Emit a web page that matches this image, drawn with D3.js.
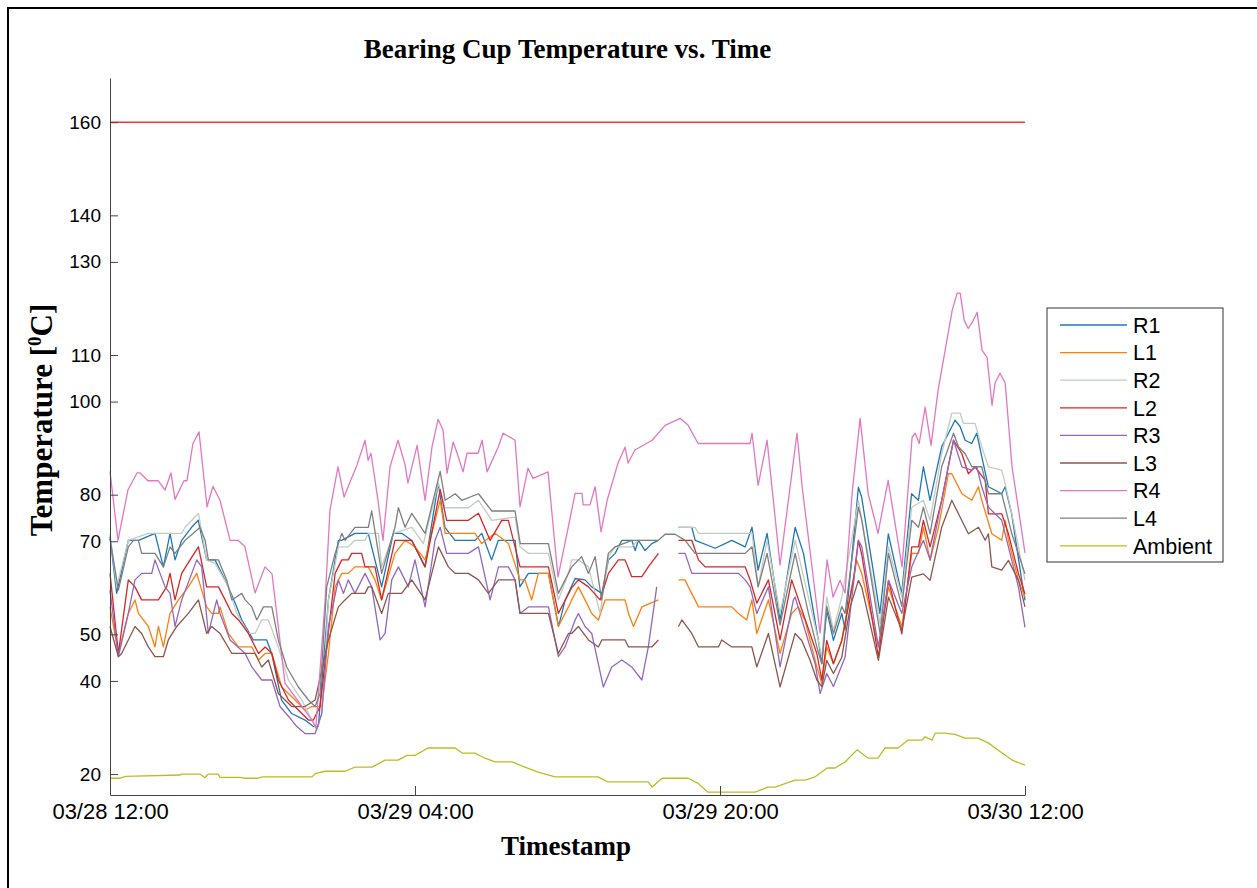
<!DOCTYPE html>
<html>
<head>
<meta charset="utf-8">
<script src="https://cdn.jsdelivr.net/npm/d3@7"></script>
<style>
  body { margin: 0; background: #fff; }
</style>
</head>
<body>
<div id="chart"></div>
<script>
// hours after 03/28 12:00, temperature in °C (null = logger gap)
const r1 = [[0,71],[0.35,58.8],[0.96,70.2],[1.5,70.2],[2.36,71.7],[2.8,64.5],[3.15,71.7],[3.41,66],[3.76,70.2],[4.28,73],[4.63,74.5],[5.07,66],[5.51,66],[6.21,60.2],[6.65,55.9],[6.91,53.1],[7.52,48.8],[8.22,48.8],[8.48,45.9],[9.0,35.9],[9.53,33],[10.23,31.6],[10.67,30.2],[10.93,30.2],[11.46,57.4],[11.98,70.2],[12.15,70.2],[12.85,71.7],[13.55,71.7],[14.25,60.2],[14.86,71.7],[15.3,71.7],[15.82,70.2],[16.52,64.5],[17.22,82.5],[17.57,73],[18.1,70.2],[19.15,70.2],[19.5,71.7],[20.02,66],[20.37,70.2],[21.25,70.2],[21.5,60.2],[21.95,63.1],[23,63.1],[23.53,51.7],[23.88,57.4],[24.4,62],[24.92,61.7],[25.27,60.2],[25.8,58.8],[26.15,66],[26.5,67.4],[26.85,70.2],[27.37,70.2],[27.55,68],[27.72,70.2],[28.07,68],[28.42,69.5],[28.77,70.2],[29.3,null],[29.82,73],[30.52,73],[30.7,70.2],[31.75,68.5],[32.62,70.2],[33.32,68.8],[33.68,73],[34,63.8],[34.47,71.7],[35.15,53],[35.94,73],[36.38,67.4],[37.16,48.7],[37.34,43.7],[37.6,55.2],[37.95,48.7],[38.39,54.5],[38.56,51],[39.26,81.6],[39.43,79.5],[40.39,54.5],[40.83,71.6],[41.53,58.7],[42.05,80.2],[42.41,78.8],[42.67,86],[43.02,78.8],[43.63,90.3],[44.33,96],[44.6,94.6],[44.86,91.7],[45.2,91],[45.47,93.2],[45.73,88.2],[46.08,81.7],[46.78,80.2],[46.96,81.7],[47.3,75.9],[47.83,61.6],[48,57.3]];

const l1 = [[0,55.9],[0.44,45.9],[0.96,54.5],[1.31,57.4],[1.49,54.5],[2.01,51.7],[2.36,47.3],[2.54,51.7],[2.8,47.3],[3.15,54.5],[3.59,57.4],[4.11,60.2],[4.55,63.1],[5.07,55.9],[5.34,54.5],[5.69,54.5],[5.77,55.9],[6.21,50.2],[6.74,47.3],[7.44,47.3],[7.79,44.5],[8.14,45.9],[8.49,45.9],[9.01,38.7],[9.71,35.9],[10.23,33.7],[10.58,34.5],[11.11,34.5],[11.46,45.9],[11.81,60.2],[12.16,63.1],[12.5,63.1],[12.85,64.5],[13.55,64.5],[13.9,61.7],[14.25,57.4],[14.95,67.4],[15.48,70.2],[16,68.8],[16.53,66],[17.32,78.8],[17.58,71.7],[19.15,71.7],[19.5,69.5],[20.2,71.7],[20.9,69.5],[21.51,61.7],[21.77,61.7],[22.12,57.4],[22.47,63.1],[23,63.1],[23.52,51.7],[24.05,55.9],[24.22,57.4],[24.57,60.2],[24.92,57.4],[25.27,54.5],[25.62,53.1],[25.97,57.4],[27.02,57.4],[27.2,54.5],[27.46,51.7],[27.9,55.9],[28.77,57.4],[29.3,null],[29.82,61.7],[30.17,61.7],[30.34,60.2],[30.69,57.4],[30.87,55.9],[32.62,55.9],[32.97,54.5],[33.4,53.1],[33.67,57.4],[33.93,50.2],[34.54,57.4],[35.15,45.9],[35.76,54.5],[36.1,55.9],[36.46,53],[37.08,43],[37.34,39.5],[37.6,47.3],[37.95,43.7],[38.39,48.7],[39.17,65.9],[39.44,63],[40.31,47.3],[40.84,60.1],[41.54,51.6],[42.06,67.4],[42.41,67.4],[42.67,73],[43.02,65.9],[43.46,73],[43.98,84.5],[44.16,84.5],[44.69,80.2],[45.21,78.8],[45.56,81.7],[45.73,78.8],[46.26,71.6],[46.78,70.2],[46.96,74.5],[47.13,70.2],[47.66,61.6],[48,58]];

const r2 = [[0,71.7],[0.35,60.2],[0.96,70.2],[2.01,71.7],[3.76,71.7],[3.94,73],[4.29,74.5],[4.64,76],[5.07,66],[5.51,65.3],[6.21,60.2],[6.65,54.5],[7.26,50.2],[7.61,50.2],[7.96,53.1],[8.31,53.1],[8.83,47.3],[9.36,40.2],[10.06,35.9],[10.58,31.6],[10.85,29.4],[11.11,33],[11.46,57.4],[11.98,68.8],[12.5,68.8],[12.85,70.2],[13.38,70.2],[13.55,71.7],[14.08,71.7],[14.25,64.5],[14.87,71.7],[15.83,73],[16.44,69.5],[17.23,82.5],[17.58,77.2],[18.8,77.2],[19.33,78.8],[20.03,74.5],[21.25,75.2],[21.51,68.8],[21.95,67.4],[23,67.4],[23.52,57.4],[24.05,63.1],[24.22,66],[24.57,66],[25.1,64.5],[25.71,54.5],[26.15,66.7],[26.49,68.8],[27.37,68.8],[27.72,70.2],[28.77,70.2],[29.3,null],[29.82,73],[30.69,73],[30.87,71.7],[33.32,71.7],[33.68,71.7],[34,60.2],[34.47,70.2],[35.15,54.5],[35.94,70.2],[37.16,48.7],[37.34,45.1],[37.6,58],[37.95,50.9],[38.39,58],[39.26,78.8],[40.4,52.3],[40.84,68.8],[41.54,58],[42.06,77.3],[42.67,78.8],[43.02,74.5],[43.63,88.8],[44.16,97.5],[44.6,97.5],[44.77,95.3],[45.38,95.3],[45.73,90.3],[46.08,86],[46.78,85.3],[46.96,82.4],[47.31,75.9],[47.83,65.2],[48,61.6]];

const l2 = [[0,63.1],[0.44,45.9],[0.96,61.7],[1.31,60.2],[1.66,57.4],[2.54,57.4],[2.97,60.2],[3.15,63.1],[3.41,57.4],[3.76,63.1],[4.2,66],[4.64,68.8],[5.07,60.2],[5.69,60.2],[6.04,57.4],[6.39,54.5],[6.74,53.1],[7.26,50.2],[7.79,45.9],[8.14,47.3],[8.49,45.9],[8.83,40.2],[9.36,35.9],[10.06,33],[10.41,31.6],[10.67,31.6],[11.02,34.5],[11.37,47.3],[11.81,63.1],[12.16,66],[12.5,66],[12.68,67.4],[13.2,67.4],[13.38,64.5],[13.9,64.5],[14.25,57.4],[14.95,70.2],[15.83,70.2],[16.53,64.5],[17.32,81.1],[17.66,74.5],[18.8,74.5],[19.33,76],[19.94,70.2],[20.55,74.5],[20.9,74.5],[21.51,64.5],[23,64.5],[23.52,54.5],[24.22,60],[24.57,61.7],[25.1,60.2],[25.71,57.4],[26.15,63.1],[26.67,66],[27.02,66],[27.37,62.4],[27.9,62.4],[28.24,64.5],[28.77,67.4],[29.3,null],[29.82,70.2],[30.52,70.2],[30.87,66],[31.22,64.5],[33.32,64.5],[33.58,61.7],[33.93,56.7],[34.54,61.7],[35.15,48.8],[35.76,61.7],[37.08,45.9],[37.34,40.2],[37.6,48.7],[37.95,43.7],[38.39,48.7],[39,61.6],[39.26,70.2],[39.44,67],[40.31,45.1],[40.84,61.6],[41.54,50.1],[42.06,68.8],[42.41,68.8],[42.67,74.5],[43.02,68.8],[43.63,78.8],[44.25,91.7],[44.69,88.8],[45.03,84.5],[45.38,86],[45.91,83.1],[46.08,75.9],[46.78,75.9],[47.13,71.6],[47.66,63],[48,58.7]];

const r3 = [[0,59.5],[0.44,45.2],[0.96,54.5],[1.31,61.7],[1.66,63.1],[2.19,63.1],[2.36,66],[2.89,60.2],[3.15,58.8],[3.41,51.7],[3.76,57.4],[4.29,63.1],[4.55,66],[4.81,64.5],[5.16,50.2],[5.6,57.4],[5.77,54.5],[6.3,48.8],[7.09,45.9],[7.44,43],[7.96,40.2],[8.49,40.2],[8.92,34.5],[9.53,31.6],[9.8,30.2],[10.23,28.7],[10.76,28.7],[11.11,33],[11.46,51.7],[11.98,61.7],[12.25,58.8],[12.5,61.7],[12.85,58.8],[13.38,63.1],[13.73,60.2],[14.17,48.8],[14.43,50.2],[14.78,61.7],[15.13,64.5],[15.65,60.2],[16,66],[16.53,55.9],[17.05,70.2],[17.32,73],[17.66,67.4],[18.8,67.4],[19.33,68.8],[19.94,57.4],[20.38,64.5],[20.9,64.5],[21.25,61.7],[21.51,54.5],[21.95,55.9],[23,55.9],[23.52,45.2],[23.87,47.3],[24.4,53.1],[24.57,54.5],[24.92,51.7],[25.27,50.2],[25.88,38.7],[26.32,43],[26.85,44.5],[27.37,43],[27.9,40.2],[28.24,47.3],[28.68,60.2],[29.3,null],[29.82,67.4],[30.17,67.4],[30.52,63.1],[32.97,63.1],[33.32,61.7],[33.58,60.2],[33.93,54.5],[34.54,60.2],[35.15,43],[35.85,57.4],[35.94,58],[36.99,43.7],[37.25,37.3],[37.6,41.6],[37.95,38.8],[38.56,45.1],[39.26,70.2],[39.44,68.8],[40.31,47.3],[40.84,61.6],[41.54,54.5],[42.06,64.5],[42.67,70.2],[43.02,66],[43.63,78.8],[44.25,91.7],[44.69,86],[45.21,85.3],[45.47,86],[45.73,81.7],[46.08,77.3],[46.78,74.5],[47.13,68.8],[47.66,60.1],[48,51.5]];

const l3 = [[0,51.7],[0.44,45.2],[0.61,45.9],[0.96,48.8],[1.31,51.7],[1.66,50.2],[2.01,47.3],[2.36,45.2],[2.8,45.2],[3.06,48.8],[3.5,51.7],[4.11,54.5],[4.64,57.4],[5.07,50.2],[5.34,51.7],[5.77,50.2],[6.39,45.9],[7.61,45.9],[7.96,43],[8.31,44.5],[8.83,37.3],[9.53,34.5],[10.23,34.5],[10.76,35.9],[11.46,48.8],[11.98,55.9],[12.33,57.4],[12.68,58.8],[13.38,58.8],[13.55,60.2],[13.73,60.2],[14.25,54.5],[14.6,58.8],[15.3,58.8],[15.83,61.7],[16.53,57.4],[17.23,68.8],[17.75,64.5],[18.1,63.1],[18.8,63.1],[19.33,61.7],[19.85,58.8],[20.38,61.7],[21.25,61.7],[21.51,54.5],[23,54.5],[23.52,45.9],[24.05,50.2],[24.22,50.2],[24.57,51.7],[25.1,48.8],[25.62,47.3],[25.8,48.8],[27.02,48.8],[27.2,47.3],[28.42,47.3],[28.77,48.8],[29.3,null],[29.82,51.7],[30,53.1],[30.52,50.2],[30.87,47.3],[31.92,47.3],[32.09,48.8],[32.62,47.3],[33.67,47.3],[33.93,43],[34.54,50.2],[35.15,38.7],[35.94,50.2],[36.29,48.7],[36.73,44.4],[37.08,40.2],[37.34,38.8],[37.6,44.4],[37.95,41.6],[38.39,45.1],[38.83,55.9],[39.26,61.6],[39.44,60.1],[40.31,44.4],[40.84,58],[41.54,50.9],[42.06,62.3],[42.67,63],[43.02,61.6],[43.63,73],[44.16,78.8],[44.51,75.9],[45.03,71.6],[45.56,73],[45.91,70.2],[46.08,71.6],[46.26,64.5],[46.78,63.8],[47.13,65.9],[47.66,61.6],[48,55.9]];

const r4 = [[0,85],[0.42,70.2],[0.94,81],[1.42,84.7],[1.57,84.7],[1.99,83],[2.52,83],[2.89,81],[3.2,84.7],[3.41,79],[3.88,83],[4.04,83],[4.35,91],[4.67,93.5],[5.09,77.4],[5.4,81.8],[5.77,78.8],[6.3,70.2],[6.72,70.2],[7.08,68.8],[7.61,58.9],[8.13,64.5],[8.5,63],[9.18,39.5],[10.6,31.6],[10.8,30],[11.28,57],[11.54,76.7],[11.96,86],[12.28,79.5],[12.49,81.7],[12.96,86.4],[13.38,91.7],[13.54,87.4],[13.69,88.9],[14.06,78.8],[14.32,70.2],[14.69,86],[15.11,91.7],[15.48,86.4],[15.63,82.5],[16.11,90.6],[16.53,78.8],[16.89,90.2],[17.21,96.2],[17.47,93.9],[17.68,84.6],[18,91.3],[18.21,88.9],[18.52,84.9],[18.73,88.9],[19.31,88.9],[19.52,91.7],[19.78,84.9],[20.36,90.2],[20.62,93.2],[21.25,91.7],[21.51,77.4],[21.93,85.7],[22.19,83.5],[22.98,84.9],[23.5,62.3],[23.87,69.6],[24.4,80.3],[24.76,80.3],[24.82,77.8],[25.18,77.8],[25.45,81.7],[25.76,72],[26.08,78.8],[26.65,86.8],[27.02,90.2],[27.18,86.8],[27.54,89.6],[28.44,91.7],[29.12,94.9],[29.91,96.4],[30.33,94.9],[30.85,91],[33.58,91],[33.68,93.2],[34,82],[34.47,91.7],[35.15,64.9],[36.04,93.2],[36.31,81.7],[37.25,50.3],[37.62,66],[37.93,58],[38.3,61.6],[38.56,58.9],[38.93,80.3],[39.35,96.4],[39.77,80.3],[40.29,71.7],[40.82,83.1],[41.55,64.5],[42.08,92.4],[42.24,93.2],[42.45,91],[42.76,98.8],[43.07,90.6],[43.44,102.4],[44.18,119.6],[44.44,123.3],[44.6,123.3],[44.81,117.5],[45.02,115.7],[45.23,117],[45.49,119.2],[45.75,111],[46.01,109.5],[46.27,99.2],[46.43,104],[46.69,106.1],[46.96,104],[47.32,86],[48,67.5]];

const l4 = [[0,70.5],[0.44,59.5],[0.96,68.8],[1.23,70.2],[1.49,70.2],[1.66,67.4],[2.36,67.4],[2.8,64.5],[3.15,68.8],[3.41,67.4],[3.94,70.2],[4.37,71.7],[4.72,73],[4.99,70.2],[5.16,66],[5.69,66],[6.12,61.7],[6.39,57.4],[6.91,58.8],[7.09,57.4],[7.44,55.9],[7.7,53.1],[8.05,55.9],[8.49,55.9],[8.83,48.8],[9.27,43],[9.88,38.7],[10.41,35.9],[10.76,34.5],[11.02,37.3],[11.37,60.2],[11.81,67.4],[12.16,71.7],[12.33,70.2],[12.85,73],[13.55,73],[13.73,76.5],[14.25,63.1],[14.95,73],[15.13,77.2],[15.48,73],[15.83,76],[16.53,71.7],[17.32,85],[17.58,78.8],[18.11,80.2],[18.45,78.8],[19.33,80.2],[20.03,76.5],[21.25,76.5],[21.52,69.5],[23,69.5],[23.52,58.8],[24.22,64.5],[24.74,66.7],[25.1,63.1],[25.45,66.7],[25.79,57.4],[26.14,67.4],[26.49,68.8],[27.37,70.2],[28.77,70.2],[29.12,71.5],[29.64,71.5],[30.17,70.2],[30.69,67.4],[33.32,67.4],[33.68,68.8],[34,60.2],[34.47,67.4],[35.15,52],[35.94,67.4],[36.64,54.5],[37.08,47.3],[37.34,43.7],[37.6,56],[37.95,50.1],[38.39,56],[38.56,54.5],[39.26,77.3],[39.44,74.5],[40.4,50.1],[40.84,67.4],[41.54,56],[42.06,74.5],[42.41,73],[42.67,77.3],[43.02,71.6],[43.63,86],[44.25,93.2],[44.51,90.3],[44.86,88.8],[45.21,86],[45.73,86],[46.08,80.2],[46.78,80.2],[47.31,71.6],[48,63]];

const ambient = [[0,19.1],[0.52,19.1],[0.84,19.5],[3.67,19.8],[3.78,20],[4.72,20],[4.98,19.2],[5.14,20],[5.67,20],[5.77,19.3],[6.82,19.3],[7.08,19.1],[7.76,19.1],[7.97,19.4],[10.6,19.4],[10.76,20.1],[11.28,20.6],[12.33,20.6],[12.85,21.5],[13.75,21.5],[14.43,23],[15.11,23],[15.58,24],[16,24],[16.68,25.6],[18.1,25.6],[18.47,24.5],[19.15,24.5],[19.67,23.4],[20.2,22.6],[21.09,22.6],[21.77,21.5],[22.46,20.4],[23.35,19.4],[25.6,19.4],[26.13,18.3],[28.23,18.3],[28.44,17.2],[28.96,19.1],[30.33,19.1],[30.85,18],[31.37,16.1],[33.84,16.1],[34.52,17.2],[34.89,17.2],[35.94,18.7],[36.46,18.7],[36.99,19.4],[37.62,21.3],[38.04,21.3],[38.56,22.6],[39.19,25.2],[39.77,23.4],[40.29,23.4],[40.66,25.6],[41.34,25.6],[41.87,27.3],[42.6,27.3],[42.76,28],[43.13,27.3],[43.29,28.8],[43.81,28.8],[44.33,28.5],[44.86,27.7],[45.54,27.7],[46.07,26.7],[46.8,24.5],[47.32,23],[48,21.9]];

const seriesNames = ["R1", "L1", "R2", "L2", "R3", "L3", "R4", "L4", "Ambient"];
const seriesData = [r1, l1, r2, l2, r3, l3, r4, l4, ambient];
const seriesColors = ["#1f77b4", "#ff7f0e", "#c3ccc3", "#d62728", "#9467bd", "#8c564b", "#e377c2", "#7f7f7f", "#bcbd22"];

const limitValue = 160;
const yTickValues = [20, 40, 50, 70, 80, 100, 110, 130, 140, 160];
const xTickHours = [0, 16, 32, 48];

const start = new Date(2023, 2, 28, 12, 0);
const toDate = h => new Date(start.getTime() + h * 3600e3);

const width = 1257, height = 888;

const svg = d3.select("#chart").append("svg")
    .attr("width", width)
    .attr("height", height);

// outer frame
svg.append("rect")
    .attr("x", 8).attr("y", 8)
    .attr("width", 1300).attr("height", 1000)
    .attr("fill", "none")
    .attr("stroke", "#000")
    .attr("stroke-width", 2);

const x = d3.scaleTime()
    .domain([toDate(0), toDate(48)])
    .range([110, 1025]);

const y = d3.scaleLinear()
    .domain([15.5, 169.5])
    .range([795, 78]);

// 160 limit line
svg.append("line")
    .attr("x1", x(toDate(0))).attr("x2", x(toDate(48)))
    .attr("y1", y(limitValue)).attr("y2", y(limitValue))
    .attr("stroke", "#ff3030")
    .attr("stroke-width", 1.3);

const line = d3.line()
    .defined(d => d[1] != null)
    .x(d => x(toDate(d[0])))
    .y(d => y(d[1]));

svg.append("g")
    .selectAll("path")
    .data(seriesData)
    .join("path")
    .attr("d", line)
    .attr("fill", "none")
    .attr("stroke", (d, i) => seriesColors[i])
    .attr("stroke-width", 1.3)
    .attr("stroke-linejoin", "round");

// axes
const xAxis = svg.append("g")
    .attr("transform", "translate(0,795)")
    .call(d3.axisBottom(x)
        .tickValues(xTickHours.map(toDate))
        .tickFormat(d3.timeFormat("%m/%d %H:%M"))
        .tickSizeInner(-9)
        .tickSizeOuter(0)
        .tickPadding(8));

const yAxis = svg.append("g")
    .attr("transform", "translate(110,0)")
    .call(d3.axisLeft(y)
        .tickValues(yTickValues)
        .tickSizeInner(-8)
        .tickSizeOuter(0)
        .tickPadding(9));

[xAxis, yAxis].forEach(g => {
    g.select(".domain").attr("stroke", "#444");
    g.selectAll(".tick line").attr("stroke", "#444");
    g.selectAll("text")
        .attr("fill", "#000")
        .style("font-family", "'Liberation Sans', Arial, sans-serif");
});
xAxis.selectAll("text").style("font-size", "22px");
yAxis.selectAll("text").style("font-size", "19px");

// titles
const serif = "'Liberation Serif', 'Times New Roman', serif";
svg.append("text")
    .attr("x", 567.5).attr("y", 58)
    .attr("text-anchor", "middle")
    .style("font-family", serif)
    .style("font-weight", "bold")
    .style("font-size", "27px")
    .text("Bearing Cup Temperature vs. Time");

svg.append("text")
    .attr("x", 566).attr("y", 855)
    .attr("text-anchor", "middle")
    .style("font-family", serif)
    .style("font-weight", "bold")
    .style("font-size", "27px")
    .text("Timestamp");

const yLabel = svg.append("text")
    .attr("transform", "translate(52,420) rotate(-90)")
    .attr("text-anchor", "middle")
    .style("font-family", serif)
    .style("font-weight", "bold")
    .style("font-size", "31px");
yLabel.append("tspan").text("Temperature [");
yLabel.append("tspan").attr("dy", -11).style("font-size", "19px").text("0");
yLabel.append("tspan").attr("dy", 11).text("C]");

// legend
const legend = svg.append("g").attr("transform", "translate(1047,308)");
legend.append("rect")
    .attr("width", 176).attr("height", 254)
    .attr("fill", "#fff")
    .attr("stroke", "#333")
    .attr("stroke-width", 1);

const item = legend.selectAll(".item")
    .data(seriesNames)
    .join("g")
    .attr("class", "item")
    .attr("transform", (d, i) => `translate(0,${17 + i * 27.6})`);

item.append("line")
    .attr("x1", 13).attr("x2", 80)
    .attr("stroke", (d, i) => seriesColors[i])
    .attr("stroke-width", 1.3);

item.append("text")
    .attr("x", 86).attr("y", 0)
    .attr("dy", "0.36em")
    .style("font-family", "'Liberation Sans', Arial, sans-serif")
    .style("font-size", "21.5px")
    .text(d => d);
</script>
</body>
</html>
